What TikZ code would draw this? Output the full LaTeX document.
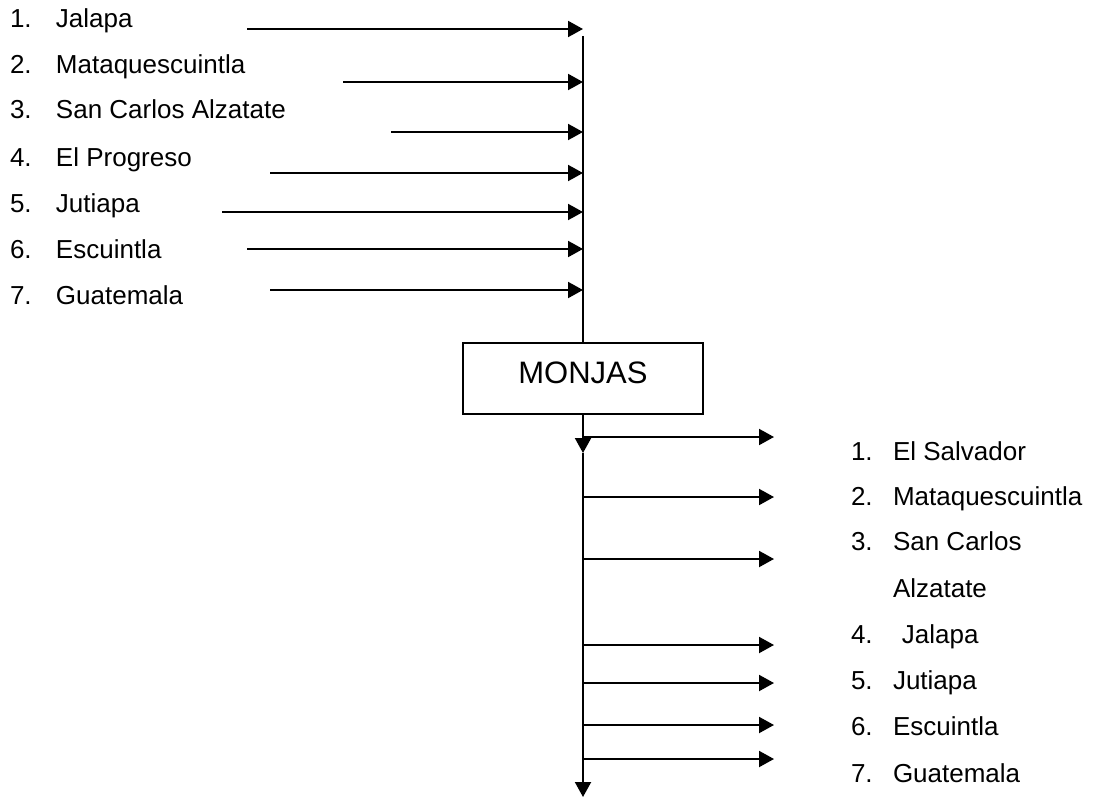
\documentclass[tikz,border=0pt]{standalone}
\usepackage{fontspec}
\setmainfont{Liberation Sans}
\usetikzlibrary{arrows.meta}

\begin{document}
\begin{tikzpicture}[x=1pt, y=-1pt, line width=2pt,
    flow/.style={-{Triangle[length=15pt,width=16pt]}},
    place/.style={anchor=base west, inner sep=0pt, font=\fontsize{26}{31}\selectfont},
    main node/.style={draw, anchor=north, minimum width=240pt, inner xsep=0pt, inner ysep=18pt,
        text height=22pt, text depth=13pt, font=\fontsize{31}{37}\selectfont}]
\useasboundingbox (0,0) rectangle (1095,797);
% trunk and box
\coordinate (top) at (583,36);
\node[main node] (monjas) at (583,342) {MONJAS};
\draw (top) -- (monjas.north);
\coordinate (mid) at (583,453);
\coordinate (bottom) at (583,797);
\draw[flow] (monjas.south) -- (mid);
\draw[flow] (mid) -- (bottom);
% incoming
\foreach \s/\y/\t in {1/28/Jalapa, 2/74/Mataquescuintla, 3/119/San Carlos Alzatate, 4/166/El Progreso,
    5/212/Jutiapa, 6/258/Escuintla, 7/304/Guatemala}{
    \node[place] (in\s) at (9,\y) {\makebox[46pt][l]{\s.}\t};}
\foreach \s/\x/\y in {1/247/29, 2/343/82, 3/391/132, 4/270/173, 5/222/212, 6/247/249, 7/270/290}{
    \coordinate (a\s) at (\x,\y);
    \draw[flow] (a\s) -- (a\s -| top);}
% outgoing
\foreach \s/\y in {1/437, 2/497, 3/559, 4/645, 5/683, 6/725, 7/759}{
    \coordinate (b\s) at (774,\y);
    \draw[flow] (b\s -| mid) -- (b\s);}
\foreach \s/\y/\t in {1/460/El Salvador, 2/505/Mataquescuintla, 3/550/San Carlos, 4/643/\hspace{9pt}Jalapa,
    5/689/Jutiapa, 6/735/Escuintla, 7/782/Guatemala}{
    \node[place] (out\s) at (850,\y) {\makebox[42pt][l]{\s.}\t};}
\node[place] (out3b) at (892,597) {Alzatate};
\end{tikzpicture}
\end{document}
